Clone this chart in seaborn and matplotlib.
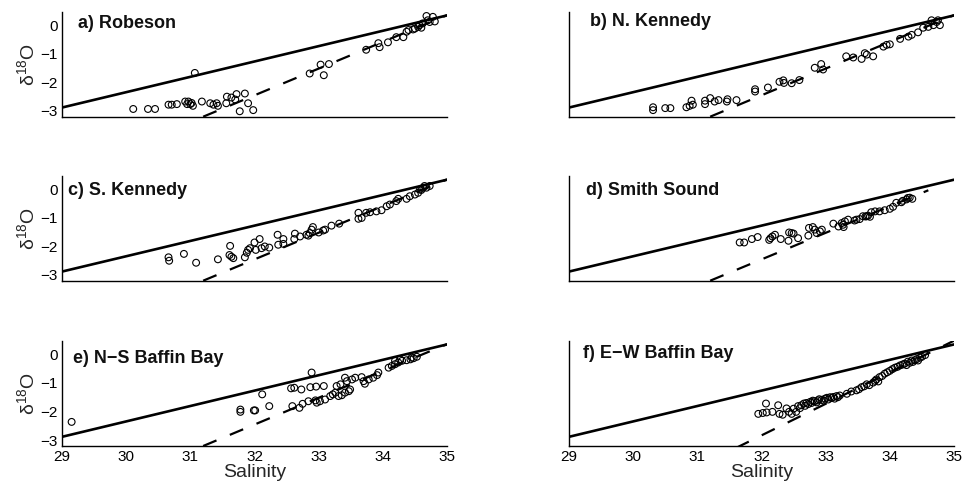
import numpy as np
import pandas as pd
import matplotlib
matplotlib.use("Agg")
import matplotlib.pyplot as plt
import seaborn as sns

# ---------------- data ----------------
panel_titles = ["a) Robeson", "b) N. Kennedy", "c) S. Kennedy",
                "d) Smith Sound", "e) N\u2212S Baffin Bay", "f) E\u2212W Baffin Bay"]

sal_a = [30.11, 30.34, 30.45, 30.66, 30.71, 30.79, 30.92, 30.95, 30.97, 31.00,
         31.04, 31.02, 31.18, 31.31, 31.36, 31.41, 31.43, 31.56, 31.57, 31.64,
         31.70, 31.72, 31.77, 31.85, 31.90, 31.98, 31.07, 32.86, 33.03, 33.08,
         33.16, 33.74, 33.93, 33.95, 34.08, 34.21, 34.32, 34.37, 34.40, 34.47,
         34.50, 34.55, 34.57, 34.62, 34.68, 34.78, 34.70, 34.81, 34.73, 34.60]
d18o_a = [-2.93, -2.93, -2.93, -2.78, -2.78, -2.76, -2.67, -2.76, -2.67, -2.76,
          -2.82, -2.72, -2.67, -2.73, -2.78, -2.73, -2.82, -2.73, -2.50, -2.53,
          -2.60, -2.41, -3.01, -2.39, -2.73, -2.97, -1.67, -1.69, -1.38, -1.75,
          -1.36, -0.86, -0.63, -0.77, -0.60, -0.42, -0.42, -0.23, -0.17, -0.15,
          -0.12, -0.06, 0.00, 0.06, 0.32, 0.29, 0.17, 0.13, 0.11, -0.09]

sal_b = [30.31, 30.31, 30.50, 30.58, 30.83, 30.88, 30.91, 30.93, 31.12, 31.12,
         31.20, 31.27, 31.33, 31.46, 31.47, 31.61, 31.90, 31.90, 32.10, 32.28,
         32.34, 32.35, 32.47, 32.59, 32.83, 32.93, 32.96, 33.32, 33.43, 33.56,
         33.61, 33.64, 33.74, 33.90, 33.95, 34.00, 34.16, 34.29, 34.34, 34.44,
         34.52, 34.60, 34.68, 34.75, 34.78, 34.73, 34.65]
d18o_b = [-2.87, -2.97, -2.90, -2.90, -2.87, -2.82, -2.64, -2.78, -2.64, -2.76,
          -2.55, -2.67, -2.62, -2.67, -2.59, -2.62, -2.32, -2.24, -2.18, -1.98,
          -1.93, -2.02, -2.03, -1.92, -1.49, -1.36, -1.55, -1.09, -1.13, -1.18,
          -0.98, -1.03, -1.09, -0.75, -0.69, -0.67, -0.48, -0.40, -0.34, -0.25,
          -0.09, -0.06, 0.00, 0.17, 0.00, 0.11, 0.17]

sal_c = [30.66, 30.67, 30.90, 31.09, 31.43, 31.62, 31.61, 31.64, 31.67, 31.85,
         31.88, 31.90, 31.93, 32.00, 32.02, 32.08, 32.11, 32.16, 32.23, 32.36,
         32.37, 32.45, 32.45, 32.63, 32.62, 32.71, 32.81, 32.86, 32.89, 32.91,
         32.84, 33.00, 33.07, 33.10, 33.20, 33.32, 33.62, 33.62, 33.67, 33.74,
         33.80, 33.90, 33.98, 34.06, 34.11, 34.21, 34.24, 34.37, 34.42, 34.50,
         34.55, 34.60, 34.63, 34.68, 34.73, 34.58, 34.65]
d18o_c = [-2.38, -2.50, -2.26, -2.57, -2.45, -1.98, -2.30, -2.36, -2.41, -2.38,
          -2.22, -2.12, -2.06, -1.86, -2.12, -1.74, -2.06, -2.00, -2.04, -1.59,
          -1.94, -1.74, -1.91, -1.55, -1.74, -1.65, -1.59, -1.53, -1.41, -1.32,
          -1.62, -1.51, -1.44, -1.41, -1.27, -1.20, -0.82, -1.03, -1.00, -0.82,
          -0.80, -0.77, -0.73, -0.59, -0.53, -0.41, -0.33, -0.33, -0.24, -0.18,
          -0.12, -0.02, 0.06, 0.06, 0.12, 0.00, 0.12]

sal_d = [31.66, 31.73, 31.85, 31.94, 32.12, 32.14, 32.17, 32.21, 32.30, 32.42,
         32.43, 32.47, 32.50, 32.57, 32.73, 32.74, 32.80, 32.83, 32.86, 32.91,
         32.94, 33.12, 33.20, 33.25, 33.27, 33.30, 33.35, 33.28, 33.45, 33.48,
         33.53, 33.58, 33.64, 33.69, 33.71, 33.77, 33.84, 33.92, 34.00, 34.05,
         34.10, 34.18, 34.26, 34.31, 34.35, 33.62, 33.66, 34.20, 34.28]
d18o_d = [-1.86, -1.86, -1.74, -1.67, -1.77, -1.71, -1.65, -1.59, -1.74, -1.80,
          -1.51, -1.53, -1.55, -1.71, -1.62, -1.35, -1.32, -1.41, -1.53, -1.47,
          -1.41, -1.20, -1.30, -1.18, -1.24, -1.12, -1.06, -1.32, -1.09, -1.06,
          -1.04, -0.94, -0.94, -0.96, -0.80, -0.77, -0.77, -0.73, -0.68, -0.61,
          -0.47, -0.45, -0.35, -0.29, -0.33, -0.95, -0.92, -0.40, -0.30]

sal_e = [29.15, 31.78, 31.78, 31.99, 32.01, 32.12, 32.23, 32.57, 32.62, 32.73,
         32.87, 32.96, 33.08, 32.89,
         32.59, 32.70, 32.75, 32.84, 32.95, 32.97, 33.02, 33.10, 33.18, 33.22,
         33.26, 33.31, 33.36, 33.41, 33.47, 33.49, 33.28, 33.34, 33.41, 33.44,
         33.52, 33.57, 33.67, 33.70, 33.72, 33.78, 33.85, 33.93, 33.91,
         34.09, 34.14, 34.19, 34.24, 34.30, 34.37, 34.43, 34.48, 34.53, 34.19,
         34.27, 34.45]
d18o_e = [-2.36, -1.93, -2.01, -1.96, -1.96, -1.40, -1.81, -1.19, -1.17, -1.23,
          -1.15, -1.13, -1.11, -0.64,
          -1.81, -1.87, -1.73, -1.64, -1.61, -1.69, -1.64, -1.58, -1.46, -1.40,
          -1.34, -1.46, -1.43, -1.34, -1.29, -1.23, -1.11, -1.05, -0.82, -0.94,
          -0.88, -0.82, -0.80, -0.94, -1.03, -0.88, -0.82, -0.64, -0.73,
          -0.47, -0.41, -0.35, -0.29, -0.23, -0.21, -0.18, -0.14, -0.09, -0.23,
          -0.18, -0.12]

sal_f = [31.95, 32.02, 32.08, 32.17, 32.28, 32.33, 32.43, 32.47, 32.54, 32.07,
         32.26, 32.39,
         32.50, 32.57, 32.60, 32.62, 32.66, 32.68, 32.70, 32.73, 32.76, 32.78,
         32.80, 32.83, 32.86, 32.88, 32.90, 32.94, 32.97, 32.99, 33.02, 33.04,
         33.07, 33.09, 33.12, 33.14, 33.17, 33.19, 33.22,
         33.33, 33.40, 33.48, 33.52, 33.56, 33.60, 33.64, 33.68, 33.74, 33.77,
         33.79, 33.82, 33.84, 33.88, 33.92, 33.96, 34.00, 34.04, 34.08, 34.12,
         34.16, 34.20, 34.23, 34.26, 34.28, 34.31, 34.34, 34.36, 34.39, 34.42,
         34.44, 34.47, 34.50, 34.55]
d18o_f = [-2.08, -2.05, -2.03, -2.01, -2.08, -2.11, -2.01, -2.08, -2.01, -1.72,
          -1.78, -1.89,
          -1.90, -1.81, -1.88, -1.78, -1.72, -1.80, -1.70, -1.74, -1.66, -1.70,
          -1.62, -1.64, -1.68, -1.61, -1.57, -1.59, -1.62, -1.55, -1.52, -1.58,
          -1.50, -1.53, -1.49, -1.55, -1.46, -1.50, -1.44,
          -1.38, -1.30, -1.26, -1.22, -1.15, -1.12, -1.05, -1.08, -0.99, -0.93,
          -0.88, -0.95, -0.80, -0.76, -0.68, -0.63, -0.58, -0.52, -0.47, -0.44,
          -0.39, -0.36, -0.33, -0.38, -0.26, -0.30, -0.22, -0.27, -0.21, -0.17,
          -0.22, -0.12, -0.09, -0.03]

# solid (meteoric) line end points, shared by all panels
solid_sal = [29.0, 35.0]
solid_d18o = [-2.88, 0.34]
# dashed line end points per panel
dash_sal = [[31.2, 35.0], [31.2, 35.0], [31.2, 35.0], [31.2, 34.6], [31.2, 35.0], [31.6, 35.0]]
dash_d18o = [[-3.2, 0.35], [-3.2, 0.35], [-3.2, 0.35], [-3.2, -0.03], [-3.2, 0.35], [-3.27, 0.47]]

x_ticks = [29, 30, 31, 32, 33, 34, 35]
y_ticks = [-3, -2, -1, 0]

sal_all = [sal_a, sal_b, sal_c, sal_d, sal_e, sal_f]
d18o_all = [d18o_a, d18o_b, d18o_c, d18o_d, d18o_e, d18o_f]
for s_, d_ in zip(sal_all, d18o_all):
    assert len(s_) == len(d_)

# ---------------- styling ----------------
sns.set_style("white")
plt.rcParams['font.family'] = ['Liberation Sans', 'DejaVu Sans']
plt.rcParams['mathtext.default'] = 'regular'
plt.rcParams['axes.unicode_minus'] = True

fig = plt.figure(figsize=(9.73, 4.87), dpi=100)
W, H = 973.0, 487.0
lefts = [62 / W, 569 / W]
tops = [11.7, 176.0, 340.7]
bottoms_px = [116.7, 280.7, 446.0]
title_pos = [(0.042, 0.845), (0.055, 0.867), (0.016, 0.82),
             (0.044, 0.82), (0.029, 0.79), (0.036, 0.84)]

for i in range(6):
    row, col = divmod(i, 2)
    b = 1 - bottoms_px[row] / H
    h = (bottoms_px[row] - tops[row]) / H
    ax = fig.add_axes([lefts[col], b, 385 / W, h])

    pts = pd.DataFrame({"Salinity": sal_all[i], "d18O": d18o_all[i]})
    sol = pd.DataFrame({"Salinity": solid_sal, "d18O": solid_d18o})
    dsh = pd.DataFrame({"Salinity": dash_sal[i], "d18O": dash_d18o[i]})

    sns.lineplot(data=sol, x="Salinity", y="d18O", ax=ax, color="black",
                 linewidth=1.9, errorbar=None, zorder=2)
    sns.lineplot(data=dsh, x="Salinity", y="d18O", ax=ax, color="black",
                 linewidth=1.6, errorbar=None, linestyle=(0, (6.5, 6.5)), zorder=2)
    sns.scatterplot(data=pts, x="Salinity", y="d18O", ax=ax, marker="o", s=24,
                    facecolor="none", edgecolor="black", linewidth=0.8, zorder=3)

    ax.set_xlim(29, 35)
    ax.set_ylim(-3.2, 0.47)
    for sp in ["top", "right"]:
        ax.spines[sp].set_visible(False)
    for sp in ["left", "bottom"]:
        ax.spines[sp].set_color("black")
        ax.spines[sp].set_linewidth(1.0)

    ax.tick_params(direction="in", length=3, width=0.8, labelsize=11, pad=3,
                   colors="black")
    if col == 0:
        ax.set_yticks(y_ticks)
        ax.set_ylabel("δ$^{18}$O", fontsize=14, labelpad=2)
    else:
        ax.set_yticks([])
        ax.set_ylabel("")
    if row == 2:
        ax.set_xticks(x_ticks)
        ax.set_xlabel("Salinity", fontsize=14, labelpad=0)
    else:
        ax.set_xticks([])
        ax.set_xlabel("")

    tx, ty = title_pos[i]
    ax.text(tx, ty, panel_titles[i], transform=ax.transAxes, fontsize=13,
            fontweight="bold", ha="left", va="baseline", color="#111111")

fig.savefig("out.png", dpi=100)
